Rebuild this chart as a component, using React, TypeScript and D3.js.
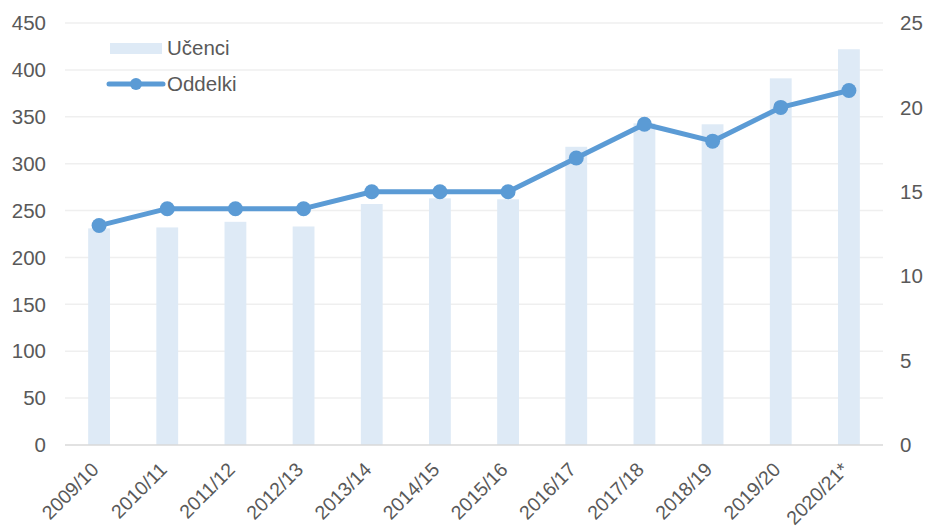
import React from "react";
import * as d3 from "d3";

const categories = ["2009/10","2010/11","2011/12","2012/13","2013/14","2014/15","2015/16","2016/17","2017/18","2018/19","2019/20","2020/21*"];
const ucenci = [231, 232, 238, 233, 257, 263, 262, 318, 343, 342, 391, 422];
const oddelki = [13, 14, 14, 14, 15, 15, 15, 17, 19, 18, 20, 21];
const leftTicks = [0, 50, 100, 150, 200, 250, 300, 350, 400, 450];
const rightTicks = [0, 5, 10, 15, 20, 25];

const W = 926, H = 530;
const left = 65, right = 883, top = 23, bottom = 445;
const font = "'Liberation Sans', Arial, sans-serif";
const textColor = "#595959";
const lineColor = "#5b9bd5";
const barColor = "#deeaf6";
const fs = 20.5;

export default function App() {
  const x = d3.scaleBand<string>().domain(categories).range([left, right]).paddingInner(0.68).paddingOuter(0.34);
  const yL = d3.scaleLinear().domain([0, 450]).range([bottom, top]);
  const yR = d3.scaleLinear().domain([0, 25]).range([bottom, top]);
  const cx = (c: string) => (x(c) as number) + x.bandwidth() / 2;
  const line = d3.line<number>().x((_, i) => cx(categories[i])).y(d => yR(d));
  return (
    <svg width={W} height={H} style={{ position: "absolute", left: 0, top: 0 }} fontFamily={font}>
      <rect width={W} height={H} fill="#fff" />
      {leftTicks.map(t => (
        <g key={t}>
          {t > 0 && <line x1={left} x2={right} y1={yL(t)} y2={yL(t)} stroke="#efefef" strokeWidth={1.5} />}
          <text x={46} y={yL(t)} dy="0.35em" textAnchor="end" fontSize={fs} fill={textColor}>{t}</text>
        </g>
      ))}
      {rightTicks.map(t => (
        <text key={t} x={900} y={yR(t)} dy="0.35em" textAnchor="start" fontSize={fs} fill={textColor}>{t}</text>
      ))}
      {categories.map((c, i) => (
        <rect key={c} x={x(c)} y={yL(ucenci[i])} width={x.bandwidth()} height={bottom - yL(ucenci[i])} fill={barColor} />
      ))}
      <line x1={left} x2={right} y1={bottom} y2={bottom} stroke="#d9d9d9" strokeWidth={1.5} />
      <path d={line(oddelki) || ""} fill="none" stroke={lineColor} strokeWidth={5} strokeLinejoin="round" />
      {oddelki.map((v, i) => (
        <circle key={i} cx={cx(categories[i])} cy={yR(v)} r={7.5} fill={lineColor} />
      ))}
      {categories.map(c => (
        <text key={c} transform={`translate(${cx(c) - 4},${466}) rotate(-45)`} textAnchor="end" dy="0.35em" fontSize={19.5} fill={textColor}>{c}</text>
      ))}
      <rect x={110} y={43} width={52} height={11} fill={barColor} />
      <text x={167} y={48} dy="0.35em" fontSize={fs} fill={textColor}>Učenci</text>
      <line x1={109} x2={163} y1={84} y2={84} stroke={lineColor} strokeWidth={5} strokeLinecap="round" />
      <circle cx={136} cy={84} r={6} fill={lineColor} />
      <text x={167} y={84} dy="0.35em" fontSize={fs} fill={textColor}>Oddelki</text>
    </svg>
  );
}
